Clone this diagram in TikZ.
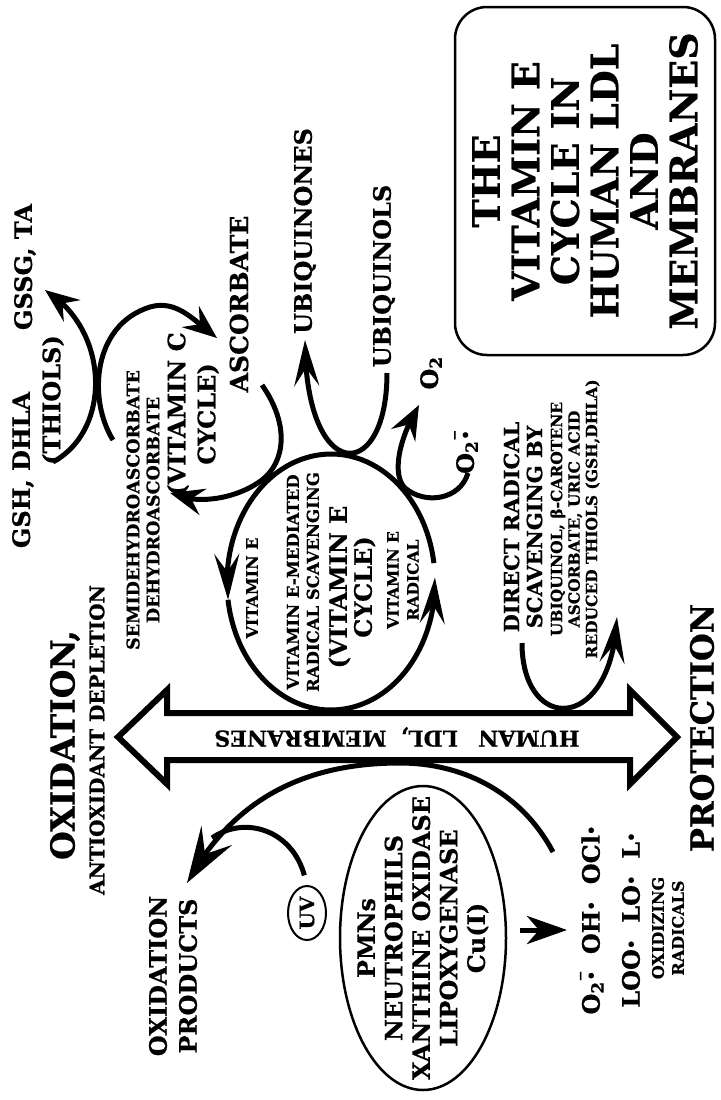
\documentclass[tikz,border=0pt]{standalone}
\usepackage{fontspec}
\setmainfont{DejaVu Serif}[BoldFeatures={FakeBold=0.6}]
\usetikzlibrary{arrows.meta,bending,shapes.geometric}
\newcommand\fsz[2]{\fontsize{#1}{#2}\selectfont}
\newcommand\rdot{\raisebox{0.12em}{\fsz{15}{15}•}}
\newcommand\supox{O\textsubscript{2}\makebox[0pt][l]{\raisebox{0.62em}{\fsz{13}{13}−}}\hspace{1pt}\rdot}
\begin{document}
\begin{tikzpicture}[x=1pt,y=-1pt,
  every node/.style={inner sep=0pt, align=center},
  rt/.style={rotate=90},
  curve/.style={line width=5pt},
  hA/.style={-{Stealth[length=46pt,width=25pt,inset=18pt]}},
  hB/.style={-{Stealth[length=34pt,width=27pt,inset=12pt]}},
  hC/.style={-{Stealth[length=56pt,width=36pt,inset=22pt]}},
  hD/.style={-{Stealth[length=40pt,width=28pt,inset=12pt]}},
  f24/.style={font=\bfseries\fsz{24}{29}},
]
\useasboundingbox[fill=white] (0,0) rectangle (720,1100);

% title
\node[rt, font=\bfseries\fsz{38}{39.5}, draw, line width=2.5pt, rounded corners=32pt,
      minimum width=348pt, minimum height=260pt] (title) at (585,181)
  {THE\\VITAMIN E\\CYCLE IN\\HUMAN LDL\\AND\\MEMBRANES};

% top-left labels
\node[rt, f24] (gssg) at (25,267) {GSSG, TA};
\node[rt, f24] (gsh) at (23,470) {GSH, DHLA};
\node[rt, f24] (thiols) at (53,400) {(THIOLS)};
\node[rt, font=\bfseries\fsz{17.5}{20}] (dehydro) at (143,510) {SEMIDEHYDROASCORBATE\\DEHYDROASCORBATE};
\node[rt, font=\bfseries\fsz{24}{30}] (vitc) at (193,414) {(VITAMIN C\\CYCLE)};
\node[rt, font=\bfseries\fsz{25}{30}] (asc) at (239,304) {ASCORBATE};
\node[rt, f24] (ubqn) at (305,231) {UBIQUINONES};
\node[rt, f24] (ubql) at (384,276) {UBIQUINOLS};
\node[rt, f24] (otwo) at (431,373) {O\textsubscript{2}};
\node[rt, f24] (superox) at (466,452) {\supox};

% oxidation side
\node[rt, font=\bfseries\fsz{33}{36}] (oxid) at (65,745) {OXIDATION,};
\node[rt, font=\bfseries\fsz{20}{22}] (depl) at (97,740) {ANTIOXIDANT DEPLETION};
\node[rt, font=\bfseries\fsz{24}{30}] (oxprod) at (173,976) {OXIDATION\\PRODUCTS};
\node[rt, draw, ellipse, line width=2pt, minimum width=54pt, minimum height=38pt,
      font=\bfseries\fsz{20}{22}] (uv) at (307,913) {UV};
\node[rt, draw, ellipse, line width=2.5pt, minimum width=304pt, minimum height=166pt] (pmn) at (423,938) {};
\node[rt, font=\bfseries\fsz{24}{27.5}] (pmntext) at (pmn.center)
  {PMNs\\NEUTROPHILS\\XANTHINE OXIDASE\\LIPOXYGENASE\\Cu(I)};
\node[rt, font=\bfseries\fsz{24}{40}] (radicals) at (610,920)
  {\supox\ \ OH\rdot\ \ OCl\rdot\\LOO\rdot\ \ LO\rdot\ \ L\rdot};
\node[rt, font=\bfseries\fsz{16}{20}] (oxrad) at (668,928) {OXIDIZING\\RADICALS};
\node[rt, font=\bfseries\fsz{32}{36}] (prot) at (702,728) {PROTECTION};

% vitamin E cycle texts
\node[rt, font=\bfseries\fsz{16}{18}] (vite) at (252,588) {VITAMIN E};
\node[rt, font=\bfseries\fsz{16.5}{20}] (vemed) at (303,582) {VITAMIN E-MEDIATED\\RADICAL SCAVENGING};
\node[rt, font=\bfseries\fsz{24}{25}] (vecyc) at (352,587) {(VITAMIN E\\CYCLE)};
\node[rt, font=\bfseries\fsz{15.5}{20}] (verad) at (403,580) {VITAMIN E\\RADICAL};

% direct scavenging texts
\node[rt, font=\bfseries\fsz{21}{23}] (direct) at (523,527) {DIRECT RADICAL\\SCAVENGING BY};
\node[rt, font=\bfseries\fsz{15.5}{17.5}] (scavs) at (575,519)
  {UBIQUINOL, β-CAROTENE\\ASCORBATE, URIC ACID\\REDUCED THIOLS (GSH,DHLA)};

% double arrow
\draw[line width=6pt, line join=miter, fill=white]
  (118,737) -- (167,690) -- (167,713) -- (630,713) -- (630,690) -- (677,737)
  -- (630,784) -- (630,760) -- (167,760) -- (167,784) -- cycle;
\node[rotate=180, font=\bfseries\fsz{22}{24}] (ldl) at (397,737)
  {HUMAN\hspace{20pt}LDL,\hspace{14pt}MEMBRANES};

% coordinates of free ends
\coordinate (th1) at (53,462);  \coordinate (th2) at (45,290);
\coordinate (vc1) at (113,440); \coordinate (vc2) at (217,338);
\coordinate (vc3) at (262,385); \coordinate (vc4) at (170,493);
\coordinate (uq1) at (387,373); \coordinate (uq2) at (305,340);
\coordinate (ox1) at (468,473); \coordinate (ox2) at (419,405);
\coordinate (dr1) at (522,643); \coordinate (dr2) at (617,617);
\coordinate (op1) at (553,852); \coordinate (op2) at (187,883);
\coordinate (uvm) at (212,838);
\coordinate (vE1) at (433.9,563.1);
\coordinate (vE2) at (228.0,599.8);
\coordinate (radtip) at (567,930);

% thiols / vitamin C cycle
\draw[curve,hB] (th1) .. controls (112,430) and (110,330) .. (th2);
\draw[curve,hB] (vc1) .. controls (88,400) and (92,325) .. (150,307)
  .. controls (178,299) and (195,322) .. (vc2);
\draw[curve,hB] (vc3) .. controls (290,425) and (285,462) .. (262,480)
  .. controls (235,500) and (195,505) .. (vc4);

% vitamin E cycle
\draw[curve,hA] (vE1) arc[start angle=-8.5, end angle=-188, x radius=104, y radius=128];
\draw[curve,hA] (vE2) arc[start angle=172, end angle=-2, x radius=104, y radius=128];

% ubiquinol branch
\draw[curve,hA] (uq1) .. controls (387,485) and (305,485) .. (uq2);
% superoxide branch
\draw[curve,hB] (ox1) .. controls (460,500) and (425,505) .. (405,488)
  .. controls (392,475) and (398,440) .. (ox2);
% direct scavenging
\draw[curve,hA] (dr1) .. controls (522,734) and (612,734) .. (dr2);
% oxidation products
\draw[curve,hC] (op1) .. controls (520,790) and (460,763) .. (400,763)
  .. controls (310,763) and (235,795) .. (op2);
\draw[curve, shorten <=10pt] (uv.east) .. controls (292,830) and (245,815) .. (uvm);
% PMN to radicals
\draw[line width=5pt, hD, shorten <=13pt] ([yshift=8pt]pmn.south) -- (radtip);
\end{tikzpicture}
\end{document}
